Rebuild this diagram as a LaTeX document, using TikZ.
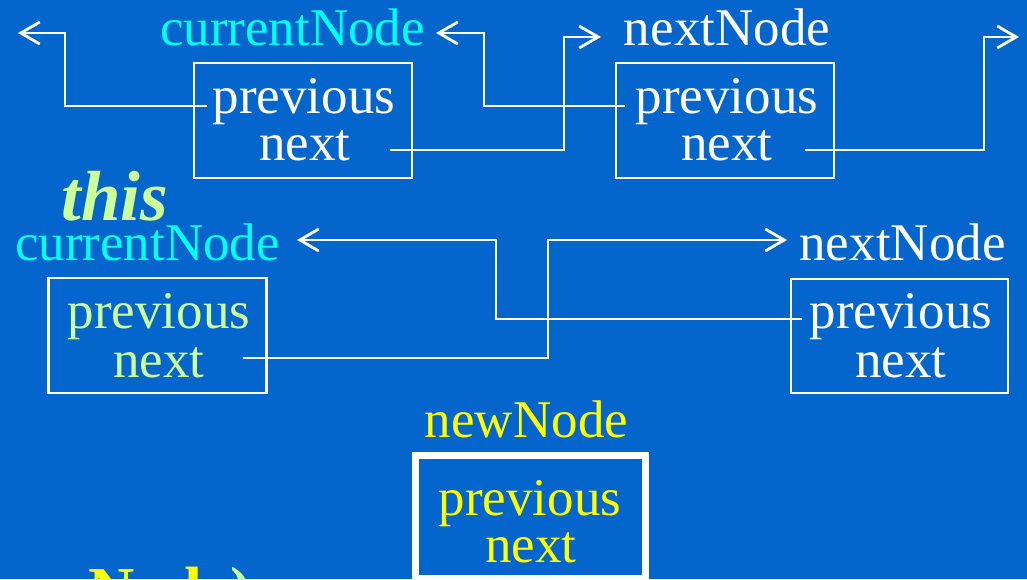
\documentclass[tikz,border=0pt]{standalone}
\usepackage{fontspec}
\setmainfont{Liberation Serif}
\usetikzlibrary{arrows.meta}
\definecolor{slideblue}{RGB}{4,102,204}
\definecolor{refcyan}{RGB}{0,255,255}
\definecolor{thisgreen}{RGB}{204,255,153}
\definecolor{newyellow}{RGB}{255,255,0}

\begin{document}
\begin{tikzpicture}[x=1pt,y=-1pt,
  every node/.style={inner sep=0pt, outer sep=0pt},
  txt/.style={anchor=base, font=\fontsize{53}{60}\selectfont},
  cell/.style={draw=white, line width=2.8pt, minimum width=218pt, minimum height=115pt},
  newcell/.style={draw=white, line width=7pt, minimum width=230pt, minimum height=123pt},
  link/.style={draw=white, line width=2.8pt, -{Straight Barb[length=19pt,width=22pt]}}]

% slide background
\fill[slideblue] (0,0) rectangle (1027,579);
\useasboundingbox (0,0) rectangle (1027,579);

% ---------- before: currentNode and nextNode ----------
\node[txt, text=refcyan] (curTop) at (292.5,45) {currentNode};
\node[txt, text=white] (nextTop) at (727,45) {nextNode};

\node[cell] (cellA) at (303,120.5) {};
\node[txt, text=white] (cellAprev) at (304,113) {previous};
\node[txt, text=white] (cellAnext) at (305,160) {next};

\node[cell] (cellB) at (725,120.5) {};
\node[txt, text=white] (cellBprev) at (727,113) {previous};
\node[txt, text=white] (cellBnext) at (727,160) {next};

\coordinate (a1s) at (207,106);  \coordinate (a1e) at (18,33);
\coordinate (a2s) at (625,106);  \coordinate (a2e) at (436,33);
\coordinate (a3s) at (390,150);  \coordinate (a3e) at (601,37);
\coordinate (a4s) at (805,150);  \coordinate (a4e) at (1019,37);

\draw[link] (a1s) -| (65,33) -- (a1e);
\draw[link] (a2s) -| (484,33) -- (a2e);
\draw[link] (a3s) -| (564,37) -- (a3e);
\draw[link] (a4s) -| (984,37) -- (a4e);

% ---------- this = currentNode ----------
\node[anchor=base, font=\bfseries\itshape\fontsize{71}{80}\selectfont, text=thisgreen] (thisLbl) at (115,220) {this};
\node[txt, text=refcyan] (curMid) at (147.5,260) {currentNode};
\node[txt, text=white] (nextMid) at (902.5,260) {nextNode};

\node[cell] (cellC) at (157.5,335.5) {};
\node[txt, text=thisgreen] (cellCprev) at (159,328) {previous};
\node[txt, text=thisgreen] (cellCnext) at (159,377) {next};

\node[cell, minimum width=217pt, minimum height=114pt] (cellD) at (899.5,336) {};
\node[txt, text=white] (cellDprev) at (901,328) {previous};
\node[txt, text=white] (cellDnext) at (901,377) {next};

\coordinate (a5s) at (802,319);  \coordinate (a5e) at (297,240);
\coordinate (a6s) at (243,358);  \coordinate (a6e) at (787,240);

\draw[link] (a5s) -| (496,240) -- (a5e);
\draw[link] (a6s) -| (548,240) -- (a6e);

% ---------- newNode ----------
\node[txt, text=newyellow] (newLbl) at (526.5,437) {newNode};
\node[newcell] (cellN) at (530.5,517) {};
\node[txt, text=newyellow] (cellNprev) at (530,515) {previous};
\node[txt, text=newyellow] (cellNnext) at (531,562) {next};

% code line running off the bottom edge
\node[anchor=base west, font=\bfseries\fontsize{64}{70}\selectfont] (callArg) at (-22,611)
  {\textcolor{newyellow}{newNode}\textcolor{thisgreen}{);}};
\end{tikzpicture}
\end{document}
